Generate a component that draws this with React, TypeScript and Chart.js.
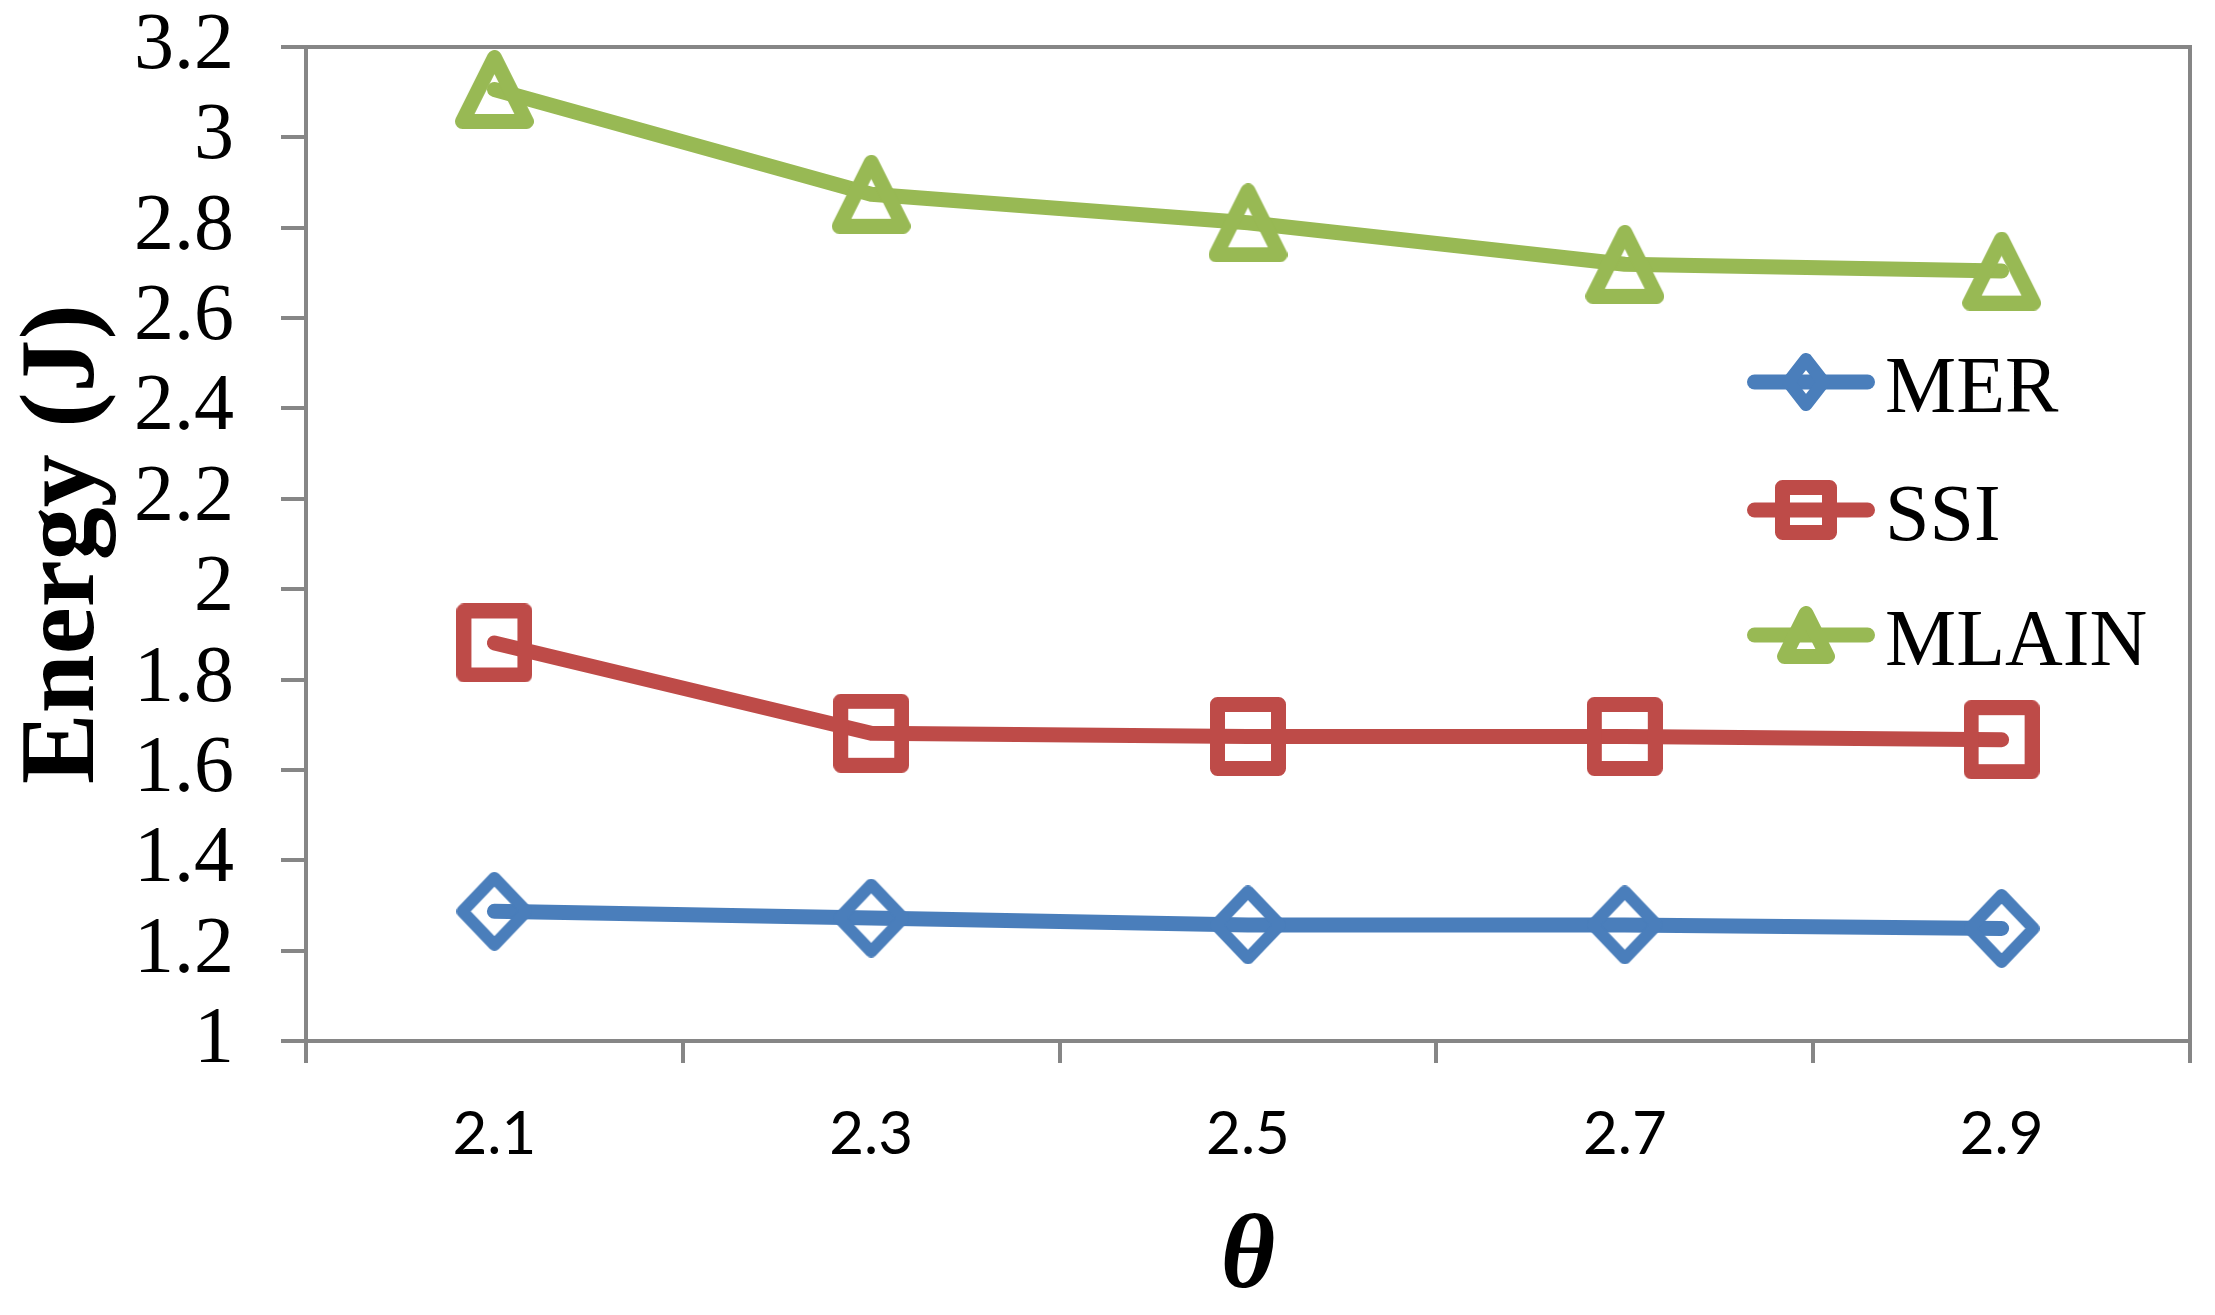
import { useEffect, useRef } from 'react';
import { Chart, registerables } from 'chart.js';

Chart.register(...registerables);

const thetaLabels = ['2.1', '2.3', '2.5', '2.7', '2.9'];
const merEnergy = [1.287, 1.272, 1.257, 1.257, 1.249];
const ssiEnergy = [1.881, 1.681, 1.674, 1.674, 1.667];
const mlainEnergy = [3.106, 2.874, 2.811, 2.719, 2.704];
const energyTicks = [1, 1.2, 1.4, 1.6, 1.8, 2, 2.2, 2.4, 2.6, 2.8, 3, 3.2];

const AXIS_GRAY = '#868686';
const BLUE = '#4A7EBB';
const RED = '#BE4B48';
const GREEN = '#98B954';

type Shape = 'diamond' | 'square' | 'triangle';

// hollow marker drawn once, used as the point style (Excel-like round joins)
function makeMarker(shape: Shape, color: string, w: number, h: number, lw: number) {
  const c = document.createElement('canvas');
  c.width = w;
  c.height = h;
  const g = c.getContext('2d')!;
  g.strokeStyle = color;
  g.lineWidth = lw;
  g.lineJoin = 'round';
  const p = lw / 2;
  g.beginPath();
  if (shape === 'diamond') {
    g.moveTo(w / 2, p);
    g.lineTo(w - p, h / 2);
    g.lineTo(w / 2, h - p);
    g.lineTo(p, h / 2);
  } else if (shape === 'square') {
    g.rect(p, p, w - lw, h - lw);
  } else {
    g.moveTo(w / 2, p);
    g.lineTo(w - p, h - p);
    g.lineTo(p, h - p);
  }
  g.closePath();
  g.stroke();
  return c;
}

// top and right sides of the plot box
const plotFrame = {
  id: 'plotFrame',
  beforeDatasetsDraw(chart: any) {
    const { ctx, chartArea } = chart;
    ctx.save();
    ctx.strokeStyle = AXIS_GRAY;
    ctx.lineWidth = 4;
    ctx.beginPath();
    ctx.moveTo(chartArea.left, chartArea.top);
    ctx.lineTo(chartArea.right, chartArea.top);
    ctx.lineTo(chartArea.right, chartArea.bottom);
    ctx.stroke();
    ctx.restore();
  },
};

// legend inside the plot: line + marker + name
const lineLegend = {
  id: 'lineLegend',
  afterDraw(chart: any, _args: any, opts: any) {
    const { ctx, chartArea } = chart;
    const markers: HTMLCanvasElement[] = opts.markers || [];
    const rows = [335, 463, 588];
    const x0 = chartArea.right - 443;
    const x1 = chartArea.right - 315;
    const mx = chartArea.right - 384;
    chart.data.datasets.forEach((ds: any, i: number) => {
      const y = chartArea.top + rows[i];
      ctx.save();
      ctx.strokeStyle = ds.borderColor;
      ctx.lineWidth = 15;
      ctx.lineCap = 'round';
      ctx.beginPath();
      ctx.moveTo(x0 + 7.5, y);
      ctx.lineTo(x1 - 7.5, y);
      ctx.stroke();
      const m = markers[i];
      if (m) ctx.drawImage(m, mx - m.width / 2, y - m.height / 2);
      ctx.fillStyle = '#000';
      ctx.font = '80px "Liberation Serif", "Times New Roman", serif';
      ctx.textAlign = 'left';
      ctx.textBaseline = 'alphabetic';
      ctx.fillText(ds.label, chartArea.right - 305, y + 30);
      ctx.restore();
    });
  },
};

// fixed axis box sizes, no extra label overflow padding
const fixBox = (size: 'width' | 'height', value: number) => (s: any) => {
  s[size] = value;
  s.paddingTop = 0;
  s.paddingBottom = 0;
  s.paddingLeft = 0;
  s.paddingRight = 0;
};

export default function App() {
  const canvasRef = useRef<HTMLCanvasElement>(null);

  useEffect(() => {
    document.body.style.margin = '0';
    if (!canvasRef.current) return;

    const merPoint = makeMarker('diamond', BLUE, 76, 79, 12);
    const ssiPoint = makeMarker('square', RED, 76, 79, 15);
    const mlainPoint = makeMarker('triangle', GREEN, 79, 79, 15);

    const legendMarkers = [
      makeMarker('diamond', BLUE, 48, 58, 13),
      makeMarker('square', RED, 62, 60, 15),
      makeMarker('triangle', GREEN, 58, 58, 15),
    ];

    const lineStyle = {
      borderWidth: 15,
      borderCapStyle: 'round' as const,
      borderJoinStyle: 'round' as const,
      tension: 0,
      fill: false,
      pointRadius: 1,
      pointBorderWidth: 0,
      backgroundColor: 'rgba(0,0,0,0)',
    };

    const chart = new Chart(canvasRef.current, {
      type: 'line',
      data: {
        labels: thetaLabels,
        datasets: [
          { label: 'MER', data: merEnergy, borderColor: BLUE, pointStyle: merPoint, ...lineStyle },
          { label: 'SSI', data: ssiEnergy, borderColor: RED, pointStyle: ssiPoint, ...lineStyle },
          { label: 'MLAIN', data: mlainEnergy, borderColor: GREEN, pointStyle: mlainPoint, ...lineStyle },
        ],
      },
      options: {
        animation: false,
        responsive: true,
        maintainAspectRatio: false,
        events: [],
        layout: { autoPadding: false, padding: { top: 47, right: 25, left: 0, bottom: 0 } },
        plugins: {
          legend: { display: false },
          tooltip: { enabled: false },
          lineLegend: { markers: legendMarkers },
        } as any,
        scales: {
          x: {
            type: 'category',
            offset: true,
            grid: {
              offset: true,
              drawOnChartArea: false,
              drawTicks: true,
              tickLength: 22,
              color: AXIS_GRAY,
              lineWidth: 4,
            },
            border: { display: true, color: AXIS_GRAY, width: 4 },
            ticks: {
              color: '#000',
              padding: 36,
              maxRotation: 0,
              autoSkip: false,
              font: { family: 'Lato, "Open Sans", sans-serif', size: 60 },
            },
            title: {
              display: true,
              text: 'θ',
              color: '#000',
              padding: { top: 0, bottom: 3 },
              font: {
                family: '"Liberation Serif", "Times New Roman", serif',
                size: 105,
                weight: 'bold',
                style: 'italic',
                lineHeight: 1,
              },
            },
            afterFit: fixBox('height', 274),
          },
          y: {
            min: 1,
            max: 3.2,
            grid: {
              drawOnChartArea: false,
              drawTicks: true,
              tickLength: 25,
              color: AXIS_GRAY,
              lineWidth: 4,
            },
            border: { display: true, color: AXIS_GRAY, width: 4 },
            afterBuildTicks: (s: any) => {
              s.ticks = energyTicks.map((v) => ({ value: v }));
            },
            ticks: {
              color: '#000',
              padding: 47,
              autoSkip: false,
              font: { family: '"Liberation Serif", "Times New Roman", serif', size: 80 },
              callback: (v: any) => Number(v).toFixed(1).replace(/\.0$/, ''),
            },
            title: {
              display: true,
              text: 'Energy (J)',
              color: '#000',
              padding: { top: 13, bottom: 0 },
              font: {
                family: '"Liberation Serif", "Times New Roman", serif',
                size: 106,
                weight: 'bold',
                lineHeight: 1,
              },
            },
            afterFit: fixBox('width', 306),
          },
        },
      },
      plugins: [plotFrame, lineLegend],
    });

    return () => {
      chart.destroy();
    };
  }, []);

  return (
    <div style={{ width: 2215, height: 1315, position: 'relative', background: '#fff' }}>
      <canvas ref={canvasRef} style={{ display: 'block' }}></canvas>
    </div>
  );
}
